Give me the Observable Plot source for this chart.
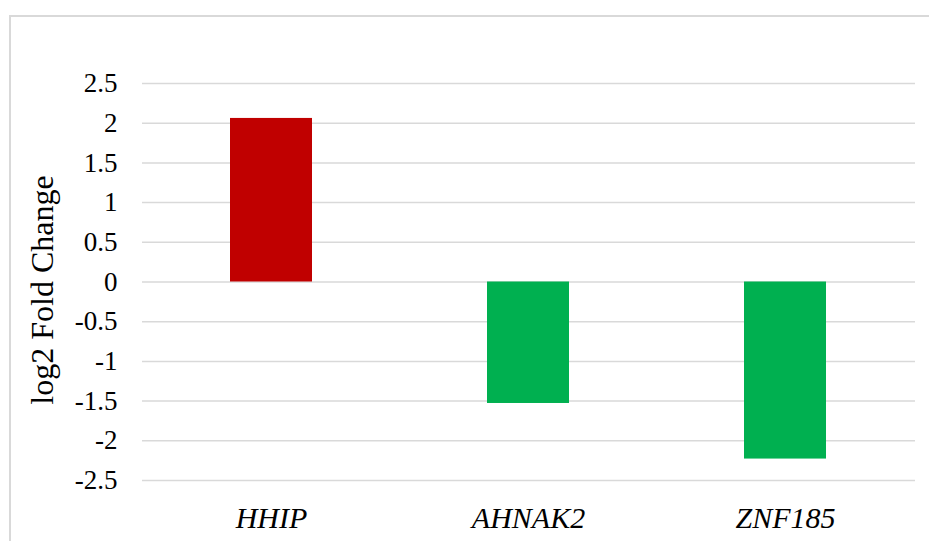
<!DOCTYPE html>
<html>
<head>
<meta charset="utf-8">
<script src="https://cdn.jsdelivr.net/npm/d3@7"></script>
<script src="https://cdn.jsdelivr.net/npm/@observablehq/plot@0.6"></script>
<style>
  html, body { margin: 0; padding: 0; background: #fff; overflow: hidden; }
  #wrap { position: relative; width: 929px; height: 541px; overflow: hidden; }
  #edge {
    position: absolute; left: 9px; top: 15px; width: 940px; height: 560px;
    border: 2px solid #d9d9d9; box-sizing: border-box;
  }
  #chart { position: absolute; left: 0; top: 0; }
  #chart svg text { font-family: "Liberation Serif", "Times New Roman", serif; }
</style>
</head>
<body>
<div id="wrap"><div id="edge"></div><div id="chart"></div></div>
<script>
// Genes and their log2 fold change
const genes = ["HHIP", "AHNAK2", "ZNF185"];
const log2FC = [2.06, -1.53, -2.23];
const yTicks = [-2.5, -2, -1.5, -1, -0.5, 0, 0.5, 1, 1.5, 2, 2.5];

const rows = genes.map((g, i) => ({gene: g, value: log2FC[i]}));
const serif = "Liberation Serif";

const chart = Plot.plot({
  width: 929,
  height: 541,
  marginLeft: 142,
  marginRight: 14,
  marginTop: 83,
  marginBottom: 61,
  style: {background: "transparent", color: "#000"},
  x: {domain: genes, paddingInner: 0.68, paddingOuter: 0.34, label: null},
  y: {domain: [-2.5, 2.5], label: null},
  marks: [
    Plot.gridY(yTicks, {stroke: "#d9d9d9", strokeWidth: 1.5, strokeOpacity: 1}),
    Plot.barY(rows, {
      x: "gene",
      y: "value",
      fill: d => d.value >= 0 ? "#C00000" : "#00B050"
    }),
    Plot.axisY(yTicks, {
      tickSize: 0,
      tickPadding: 25,
      fontSize: 27,
      fontFamily: serif,
      tickFormat: d => String(d),
      label: null
    }),
    Plot.axisX({
      tickSize: 0,
      tickPadding: 26,
      fontSize: 30,
      fontFamily: serif,
      fontStyle: "italic",
      label: null
    }),
    Plot.text(["log2 Fold Change"], {
      frameAnchor: "left",
      textAnchor: "middle",
      rotate: -90,
      dx: -100,
      dy: 8,
      fontSize: 32,
      fontFamily: serif,
      fill: "#000"
    })
  ]
});

document.getElementById("chart").appendChild(chart);
</script>
</body>
</html>
